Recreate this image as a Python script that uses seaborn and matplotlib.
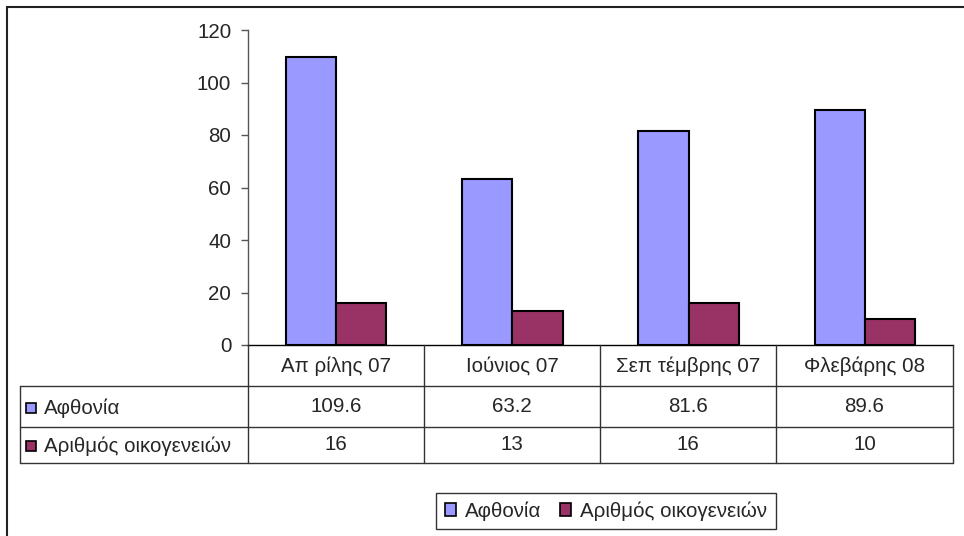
import matplotlib
matplotlib.use("Agg")
import matplotlib.pyplot as plt
from matplotlib.patches import Rectangle
from matplotlib.lines import Line2D
import seaborn as sns
import pandas as pd

# Data
categories = ["Απ ρίλης 07", "Ιούνιος 07", "Σεπ τέμβρης 07", "Φλεβάρης 08"]
series_names = ["Αφθονία", "Αριθμός οικογενειών"]
afthonia = [109.6, 63.2, 81.6, 89.6]
oikogeneies = [16, 13, 16, 10]
table_text_a = ["109.6", "63.2", "81.6", "89.6"]
table_text_b = ["16", "13", "16", "10"]
y_ticks = [0, 20, 40, 60, 80, 100, 120]
colors = ["#9999FF", "#993366"]

df = pd.DataFrame({
    "cat": categories * 2,
    "series": [series_names[0]] * 4 + [series_names[1]] * 4,
    "value": afthonia + oikogeneies,
})

sns.set_theme(style="white")
plt.rcParams["font.family"] = ["Liberation Sans", "DejaVu Sans"]
FS = 14.8

W, H = 964, 536
fig = plt.figure(figsize=(W / 100, H / 100), dpi=100)


def fx(px):
    return px / W


def fy(py):
    return 1 - py / H


# plot area
x0, x1, ytop, ybot = 248, 953, 30, 345
ax = fig.add_axes([fx(x0), fy(ybot), fx(x1 - x0), (ybot - ytop) / H])
sns.barplot(data=df, x="cat", y="value", hue="series", palette=colors,
            width=0.57, edgecolor="black", linewidth=1.5, ax=ax,
            saturation=1, legend=False)
ax.set_ylim(0, 120)
ax.set_xlim(-0.5, 3.5)
ax.set_yticks(y_ticks)
ax.set_yticklabels([str(t) for t in y_ticks], fontsize=FS)
ax.set_xticks([])
ax.set_xlabel("")
ax.set_ylabel("")
for s in ["top", "right"]:
    ax.spines[s].set_visible(False)
ax.spines["left"].set_color("#555555")
ax.spines["left"].set_linewidth(1.0)
ax.spines["bottom"].set_color("black")
ax.spines["bottom"].set_linewidth(1.0)
ax.tick_params(axis="y", direction="out", length=5, width=1, color="#555555",
               pad=7, left=True)
ax.grid(False)

# data table below the axis
col_edges = [248, 424, 600, 776, 953]
tbl_left = 20
row_lines = [386, 427, 463]
lc = "#333333"
lw = 1.0
for y in row_lines:
    fig.add_artist(Line2D([fx(tbl_left), fx(col_edges[-1])], [fy(y), fy(y)],
                          color=lc, lw=lw))
for xe in col_edges:
    fig.add_artist(Line2D([fx(xe), fx(xe)], [fy(345), fy(463)], color=lc, lw=lw))
fig.add_artist(Line2D([fx(tbl_left), fx(tbl_left)], [fy(386), fy(463)],
                      color=lc, lw=lw))

centers = [(col_edges[i] + col_edges[i + 1]) / 2 for i in range(4)]
for i, c in enumerate(categories):
    fig.text(fx(centers[i]), fy(366), c, ha="center", va="center", fontsize=FS)
for i in range(4):
    fig.text(fx(centers[i]), fy(407), table_text_a[i], ha="center", va="center",
             fontsize=FS)
    fig.text(fx(centers[i]), fy(445), table_text_b[i], ha="center", va="center",
             fontsize=FS)

for name, col, yc in [(series_names[0], colors[0], 408),
                      (series_names[1], colors[1], 446)]:
    fig.add_artist(Rectangle((fx(26), fy(yc + 5)), fx(10), 10 / H,
                             facecolor=col, edgecolor="black", lw=1.2))
    fig.text(fx(44), fy(yc), name, ha="left", va="center", fontsize=FS)

# legend
handles = [Rectangle((0, 0), 1, 1, facecolor=c, edgecolor="black", lw=1.2)
           for c in colors]
leg = fig.legend(handles, series_names, loc="center",
                 bbox_to_anchor=(fx(606), fy(511)), ncol=2, fontsize=FS,
                 frameon=True, fancybox=False, handlelength=0.55,
                 handleheight=0.55, handletextpad=0.45, columnspacing=0.9,
                 borderpad=0.4, borderaxespad=0)
leg.get_frame().set_edgecolor("black")
leg.get_frame().set_linewidth(1.0)

# outer chart frame
fig.add_artist(Line2D([fx(7), fx(7)], [fy(7), 0], color="#222222", lw=1.5))
fig.add_artist(Line2D([fx(7), 1], [fy(7), fy(7)], color="#222222", lw=1.5))

fig.savefig("out.png", dpi=100)
